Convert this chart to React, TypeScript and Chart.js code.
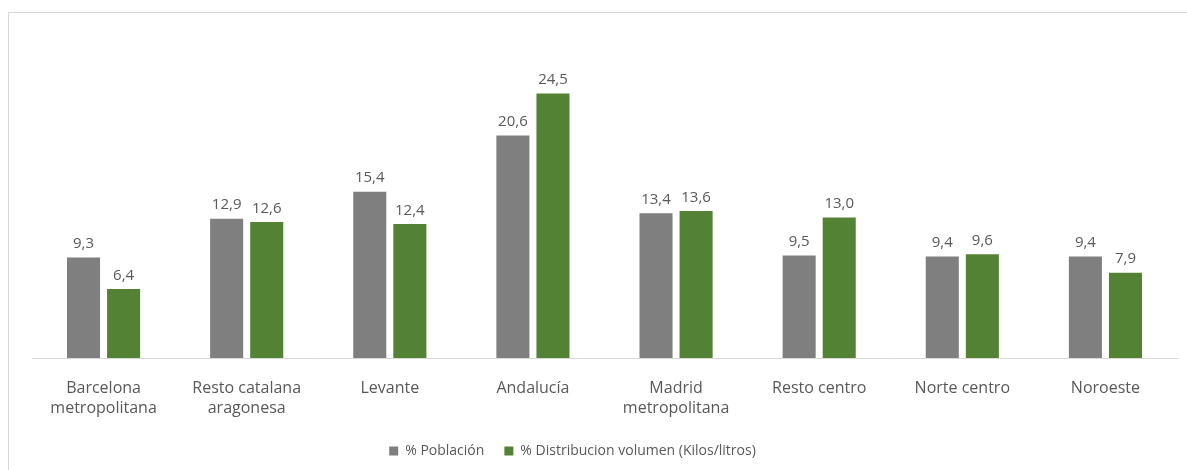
import React, { useEffect, useRef } from "react";
import { Chart, registerables } from "chart.js";

Chart.register(...registerables);

const categories: string[][] = [
  ["Barcelona", "metropolitana"],
  ["Resto catalana", "aragonesa"],
  ["Levante"],
  ["Andalucía"],
  ["Madrid", "metropolitana"],
  ["Resto centro"],
  ["Norte centro"],
  ["Noroeste"],
];
const poblacion = [9.3, 12.9, 15.4, 20.6, 13.4, 9.5, 9.4, 9.4];
const distribucion = [6.4, 12.6, 12.4, 24.5, 13.6, 13.0, 9.6, 7.9];
const seriesNames = ["% Población", "% Distribucion volumen (Kilos/litros)"];

const FONT = "'Open Sans', sans-serif";

const dataLabels = {
  id: "dataLabels",
  afterLayout(chart: any) {
    if (chart.legend) {
      chart.legend.left -= 32;
      chart.legend.right -= 32;
    }
  },
  afterDatasetsDraw(chart: any) {
    const ctx = chart.ctx;
    ctx.save();
    ctx.font = `15px ${FONT}`;
    ctx.fillStyle = "#595959";
    ctx.textAlign = "center";
    ctx.textBaseline = "bottom";
    chart.data.datasets.forEach((ds: any, i: number) => {
      const meta = chart.getDatasetMeta(i);
      meta.data.forEach((el: any, j: number) => {
        const v = ds.data[j] as number;
        ctx.fillText(v.toFixed(1).replace(".", ","), el.x, el.y - 6);
      });
    });
    ctx.restore();
  },
};

export default function App() {
  const ref = useRef<HTMLCanvasElement | null>(null);
  useEffect(() => {
    if (!ref.current) return;
    const chart = new Chart(ref.current, {
      type: "bar",
      data: {
        labels: categories,
        datasets: [
          {
            label: seriesNames[0],
            data: poblacion,
            backgroundColor: "#7f7f7f",
            categoryPercentage: 0.56,
            barPercentage: 0.825,
          },
          {
            label: seriesNames[1],
            data: distribucion,
            backgroundColor: "#548235",
            categoryPercentage: 0.56,
            barPercentage: 0.825,
          },
        ],
      },
      options: {
        animation: false,
        responsive: true,
        maintainAspectRatio: false,
        layout: { padding: { left: 23, right: 10, top: 21, bottom: 2 } },
        plugins: {
          legend: {
            position: "bottom",
            labels: {
              boxWidth: 9,
              boxHeight: 9,
              color: "#595959",
              font: { family: FONT, size: 14 },
              padding: 20,
            },
          },
          tooltip: { enabled: false },
        },
        scales: {
          x: {
            grid: { display: false },
            border: { color: "#d9d9d9", width: 1 },
            ticks: {
              color: "#595959",
              font: { family: FONT, size: 16, lineHeight: 1.25 },
              maxRotation: 0,
              autoSkip: false,
              padding: 12,
            },
            afterFit: (scale: any) => {
              scale.height -= 6;
            },
          },
          y: { display: false, min: 0, max: 30 },
        },
      },
      plugins: [dataLabels],
    });
    return () => chart.destroy();
  }, []);
  return (
    <div
      style={{
        position: "absolute",
        left: 8,
        top: 12,
        width: 1179,
        height: 458,
        borderTop: "1px solid #d9d9d9",
        borderLeft: "1px solid #d9d9d9",
        boxSizing: "border-box",
        background: "#fff",
      }}
    >
      <canvas ref={ref} />
    </div>
  );
}
